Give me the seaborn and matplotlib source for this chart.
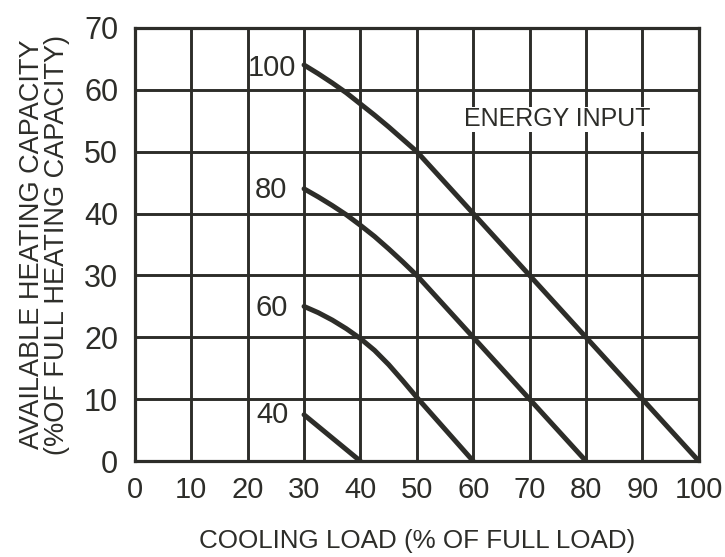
import pandas as pd
import matplotlib
matplotlib.use("Agg")
import matplotlib.pyplot as plt
import seaborn as sns

# curve data (cooling load %, available heating capacity %)
load_100 = [30, 32.5, 35, 37.5, 40, 42.5, 45, 47.5, 50, 60, 70, 80, 90, 100]
cap_100 = [64, 62.6, 61.1, 59.5, 57.7, 55.9, 54.0, 52.0, 50, 40, 30, 20, 10, 0]
load_80 = [30, 32.5, 35, 37.5, 40, 42.5, 45, 47.5, 50, 60, 70, 80]
cap_80 = [44, 42.7, 41.3, 39.8, 38.1, 36.3, 34.3, 32.2, 30, 20, 10, 0]
load_60 = [30, 32.5, 35, 37.5, 40, 42.5, 45, 47.5, 50, 60]
cap_60 = [25, 24, 22.8, 21.4, 19.8, 17.9, 15.6, 13, 10.3, 0]
load_40 = [30, 40]
cap_40 = [7.5, 0]

energy_levels = ["100", "80", "60", "40"]
x_ticks = list(range(0, 101, 10))
y_ticks = list(range(0, 71, 10))

ink = "#2d2d29"

frames = []
for lvl, xs, ys in zip(energy_levels,
                       [load_100, load_80, load_60, load_40],
                       [cap_100, cap_80, cap_60, cap_40]):
    frames.append(pd.DataFrame({"load": xs, "cap": ys, "energy": lvl}))
df = pd.concat(frames, ignore_index=True)

sns.set_theme(style="white")
plt.rcParams["font.family"] = ["Liberation Sans", "DejaVu Sans"]

fig = plt.figure(figsize=(7.25, 5.57), dpi=100)
ax = fig.add_axes([0.186, 0.172, 0.778, 0.778])

sns.lineplot(data=df, x="load", y="cap", units="energy", estimator=None,
             color=ink, linewidth=3.6, sort=False, ax=ax, zorder=3)

ax.set_xlim(0, 100)
ax.set_ylim(0, 70)
ax.set_xticks(x_ticks)
ax.set_yticks(y_ticks)
ax.grid(True, color=ink, linewidth=2.1)
ax.set_axisbelow(True)
for s in ax.spines.values():
    s.set_color(ink)
    s.set_linewidth(2.3)
ax.tick_params(axis="both", length=0, labelcolor=ink)
ax.tick_params(axis="x", pad=11, labelsize=21)
ax.tick_params(axis="y", pad=12, labelsize=22)

ax.set_xlabel("COOLING LOAD (% OF FULL LOAD)", fontsize=18.7, color=ink, labelpad=18)
ax.set_ylabel("AVAILABLE HEATING CAPACITY\n(%OF FULL HEATING CAPACITY)",
              fontsize=19.5, color=ink, labelpad=10, linespacing=0.95)

# curve labels, right-aligned just left of the 30 % grid line
label_pos = [(28.6, 63.5), (27.0, 43.8), (27.2, 24.7), (27.2, 7.4)]
for lvl, (lx, ly) in zip(energy_levels, label_pos):
    ax.text(lx, ly, lvl, ha="right", va="center", fontsize=21, color=ink,
            zorder=4)

ax.text(74.8, 55.2, "ENERGY INPUT", ha="center", va="center", fontsize=18,
        color=ink, zorder=4,
        bbox=dict(facecolor="white", edgecolor="none", pad=0.5))

fig.savefig("out.png", dpi=100)
